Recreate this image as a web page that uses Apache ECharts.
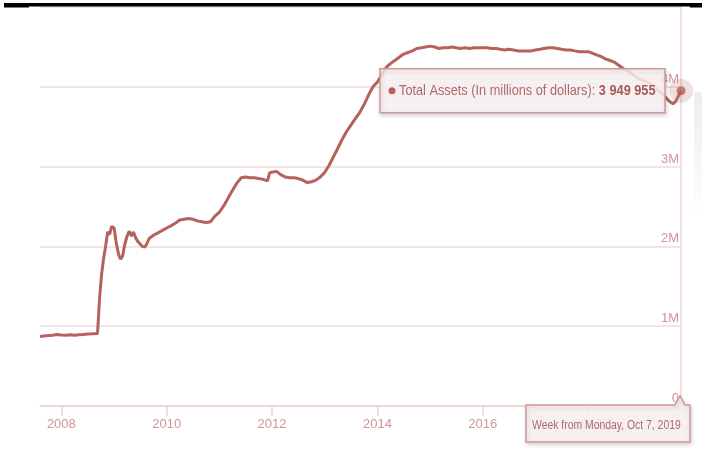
<!DOCTYPE html>
<html>
<head>
<meta charset="utf-8">
<script src="https://cdn.jsdelivr.net/npm/echarts@6/dist/echarts.min.js"></script>
<style>
  html, body { margin: 0; padding: 0; background: #fff; }
  #chart { width: 702px; height: 454px; }
</style>
</head>
<body>
<div id="chart"></div>
<script>
// Federal Reserve total assets, week dates and values in millions of dollars
const weeks = [
  '2007-08-06','2007-09-01','2007-10-01','2007-11-01','2007-12-01',
  '2008-01-01','2008-02-01','2008-03-01','2008-04-01','2008-05-01','2008-06-01','2008-07-01','2008-08-01',
  '2008-09-08','2008-09-22','2008-10-06','2008-10-20','2008-11-03','2008-11-17','2008-12-01','2008-12-15',
  '2009-01-01','2009-01-15','2009-02-01','2009-02-15','2009-03-01','2009-03-15','2009-04-01','2009-04-15',
  '2009-05-01','2009-05-15','2009-06-01','2009-06-15','2009-07-01','2009-07-15','2009-08-01','2009-08-15',
  '2009-09-01','2009-10-01','2009-11-01','2009-12-01',
  '2010-01-01','2010-02-01','2010-03-01','2010-04-01','2010-05-01','2010-06-01','2010-07-01','2010-08-01',
  '2010-09-01','2010-10-01','2010-11-01','2010-12-01',
  '2011-01-01','2011-02-01','2011-03-01','2011-04-01','2011-05-01','2011-06-01','2011-07-01','2011-08-01',
  '2011-09-01','2011-10-01','2011-11-01','2011-12-01','2011-12-15',
  '2012-01-01','2012-02-01','2012-03-01','2012-04-01','2012-05-01','2012-06-01','2012-07-01','2012-08-01',
  '2012-09-01','2012-10-01','2012-11-01','2012-12-01',
  '2013-01-01','2013-02-01','2013-03-01','2013-04-01','2013-05-01','2013-06-01','2013-07-01','2013-08-01',
  '2013-09-01','2013-10-01','2013-11-01','2013-12-01',
  '2014-01-01','2014-02-01','2014-03-01','2014-04-01','2014-05-01','2014-06-01','2014-07-01','2014-08-01',
  '2014-09-01','2014-10-01','2014-11-01','2014-12-01',
  '2015-01-01','2015-02-01','2015-03-01','2015-04-01','2015-05-01','2015-06-01','2015-07-01','2015-08-01',
  '2015-09-01','2015-10-01','2015-11-01','2015-12-01',
  '2016-01-01','2016-02-01','2016-03-01','2016-04-01','2016-05-01','2016-06-01','2016-07-01','2016-08-01',
  '2016-09-01','2016-10-01','2016-11-01','2016-12-01',
  '2017-01-01','2017-02-01','2017-03-01','2017-04-01','2017-05-01','2017-06-01','2017-07-01','2017-08-01',
  '2017-09-01','2017-10-01','2017-11-01','2017-12-01',
  '2018-01-01','2018-02-01','2018-03-01','2018-04-01','2018-05-01','2018-06-01','2018-07-01','2018-08-01',
  '2018-09-01','2018-10-01','2018-11-01','2018-12-01',
  '2019-01-01','2019-02-01','2019-03-01','2019-04-01','2019-05-01','2019-06-01','2019-07-01','2019-08-01',
  '2019-08-15','2019-09-01','2019-09-15','2019-10-01','2019-10-07'
];

const totalAssets = [
  870000, 878000, 882000, 888000, 895000,
  890000, 888000, 893000, 887000, 892000, 897000, 902000, 905000,
  910000, 1350000, 1650000, 1850000, 2000000, 2180000, 2150000, 2250000,
  2230000, 2050000, 1900000, 1840000, 1880000, 2020000, 2130000, 2190000,
  2130000, 2180000, 2100000, 2060000, 2030000, 2000000, 1990000, 2030000,
  2100000, 2140000, 2170000, 2200000,
  2230000, 2260000, 2290000, 2330000, 2340000, 2350000, 2340000, 2320000,
  2310000, 2300000, 2310000, 2380000,
  2430000, 2510000, 2600000, 2700000, 2790000, 2860000, 2870000, 2860000,
  2860000, 2850000, 2840000, 2820000, 2920000,
  2930000, 2940000, 2900000, 2870000, 2860000, 2860000, 2850000, 2830000,
  2800000, 2810000, 2830000, 2870000,
  2930000, 3020000, 3120000, 3230000, 3340000, 3440000, 3520000, 3600000,
  3680000, 3780000, 3900000, 4000000,
  4060000, 4150000, 4240000, 4290000, 4330000, 4370000, 4410000, 4430000,
  4450000, 4480000, 4490000, 4500000,
  4510000, 4500000, 4480000, 4490000, 4490000, 4500000, 4490000, 4480000,
  4490000, 4480000, 4490000, 4490000,
  4490000, 4490000, 4480000, 4480000, 4470000, 4460000, 4470000, 4460000,
  4450000, 4450000, 4450000, 4450000,
  4460000, 4470000, 4480000, 4490000, 4490000, 4480000, 4470000, 4460000,
  4460000, 4450000, 4440000, 4440000,
  4440000, 4420000, 4400000, 4380000, 4350000, 4330000, 4310000, 4270000,
  4230000, 4200000, 4160000, 4120000,
  4090000, 4070000, 4050000, 4010000, 3960000, 3910000, 3850000, 3800000,
  3790000, 3820000, 3870000, 3930000, 3949955
];

const yearTicks = ['2008', '2010', '2012', '2014', '2016', '2018'];
const seriesName = 'Total Assets (In millions of dollars)';

const FONT = "'Liberation Sans', Arial, sans-serif";
const LINE = '#b5615c';
const LABEL = '#cf9696';
const GRID = '#f2dada';

const lastIdx = weeks.length - 1;
const lastDate = weeks[lastIdx];
const lastValue = totalAssets[lastIdx];

function toTime(s) {
  const p = s.split('-').map(Number);
  return Date.UTC(p[0], p[1] - 1, p[2]);
}
function groupDigits(n) {
  return String(n).replace(/\B(?=(\d{3})+(?!\d))/g, ' ');
}
function weekText(s) {
  const d = new Date(toTime(s));
  const days = ['Sunday','Monday','Tuesday','Wednesday','Thursday','Friday','Saturday'];
  const months = ['Jan','Feb','Mar','Apr','May','Jun','Jul','Aug','Sep','Oct','Nov','Dec'];
  return 'Week from ' + days[d.getUTCDay()] + ', ' + months[d.getUTCMonth()] + ' ' +
    d.getUTCDate() + ', ' + d.getUTCFullYear();
}

const yearTickValues = yearTicks.map(y => Date.UTC(Number(y), 0, 1));
const lineData = weeks.map((w, i) => [toTime(w), totalAssets[i]]);
const lastPoint = [toTime(lastDate), lastValue];

const chart = echarts.init(document.getElementById('chart'), null, { renderer: 'canvas' });

chart.setOption({
  animation: false,
  backgroundColor: '#ffffff',
  grid: { left: 40, right: 21, top: 7, bottom: 48, containLabel: false },
  xAxis: {
    type: 'value',
    z: 0,
    min: toTime(weeks[0]),
    max: toTime(lastDate),
    axisLine: { show: true, lineStyle: { color: '#efcfcf', width: 1.5 } },
    axisTick: {
      show: true, length: 10, customValues: yearTickValues,
      lineStyle: { color: '#efcfcf', width: 1.5 }
    },
    axisLabel: {
      customValues: yearTickValues,
      showMinLabel: true, showMaxLabel: true,
      formatter: v => String(new Date(v).getUTCFullYear()),
      color: LABEL, fontSize: 13, fontFamily: FONT, margin: 12
    },
    splitLine: { show: false }
  },
  yAxis: {
    type: 'value',
    z: 0,
    position: 'right',
    min: 0, max: 5000000, interval: 1000000,
    axisLine: { show: true, lineStyle: { color: '#f0d2d2', width: 1.5 } },
    axisTick: { show: false },
    axisLabel: {
      inside: true,
      margin: 2,
      verticalAlign: 'bottom',
      padding: [0, 0, 1, 0],
      color: LABEL, fontSize: 13, fontFamily: FONT,
      formatter: v => v >= 5000000 ? '' : (v === 0 ? '0' : (v / 1000000) + 'M')
    },
    splitLine: { show: true, lineStyle: { color: GRID, width: 1.5 } }
  },
  series: [
    {
      name: seriesName,
      type: 'line',
      data: lineData,
      showSymbol: false,
      lineStyle: { color: LINE, width: 3 },
      z: 3
    },
    {
      type: 'scatter',
      data: [lastPoint],
      symbolSize: 24,
      itemStyle: { color: 'rgba(190,110,110,0.28)' },
      silent: true,
      z: 4
    },
    {
      type: 'scatter',
      data: [lastPoint],
      symbolSize: 9,
      itemStyle: { color: LINE },
      silent: true,
      z: 5
    }
  ]
});

// Place the hover boxes relative to the last point on the library's scales
const p = chart.convertToPixel({ seriesIndex: 0 }, lastPoint);
const axisY = chart.convertToPixel({ yAxisIndex: 0 }, 0);
const ax = p[0];

const boxStyle = {
  fill: 'rgba(251,243,243,0.85)', stroke: '#cf9898', lineWidth: 1.5,
  shadowBlur: 4, shadowOffsetX: 1, shadowOffsetY: 2, shadowColor: 'rgba(0,0,0,0.18)'
};

chart.setOption({
  graphic: {
    elements: [
      // header rule
      { type: 'rect', zlevel: 1, z: 100, shape: { x: 4, y: 3, width: 698, height: 3.5 }, style: { fill: '#000' } },
      { type: 'rect', zlevel: 1, z: 100, shape: { x: 4, y: 6, width: 25, height: 1.5 }, style: { fill: '#000' } },
      { type: 'rect', zlevel: 1, z: 100, shape: { x: 690, y: 6, width: 12, height: 1.5 }, style: { fill: '#000' } },
      // faint side shadow
      {
        type: 'rect', zlevel: 1, z: 100, shape: { x: 694, y: 92, width: 9, height: 128 },
        style: {
          fill: new echarts.graphic.LinearGradient(0, 0, 0, 1, [
            { offset: 0, color: 'rgba(0,0,0,0.07)' },
            { offset: 1, color: 'rgba(0,0,0,0)' }
          ])
        }
      },
      // value box
      {
        type: 'rect', zlevel: 1, z: 100,
        shape: { x: ax - 301, y: p[1] - 22, width: 285, height: 44 },
        style: boxStyle
      },
      {
        type: 'circle', zlevel: 1, z: 101,
        shape: { cx: ax - 289, cy: p[1], r: 3.5 },
        style: { fill: LINE }
      },
      {
        type: 'text', zlevel: 1, z: 101,
        x: ax - 282, y: p[1] + 0.5,
        scaleX: 0.85,
        style: {
          text: '{n|' + seriesName + ': }{b|' + groupDigits(lastValue) + '}',
          verticalAlign: 'middle',
          rich: {
            n: { fontSize: 15, fontFamily: FONT, fill: '#b06a6a' },
            b: { fontSize: 15, fontFamily: FONT, fontWeight: 'bold', fill: '#a85a5a' }
          }
        }
      },
      // date box
      {
        type: 'polygon', zlevel: 1, z: 100,
        shape: {
          points: [
            [ax - 155, axisY - 1], [ax - 6, axisY - 1], [ax - 1, axisY - 10],
            [ax + 4, axisY - 1], [ax + 9, axisY - 1], [ax + 9, axisY + 36], [ax - 155, axisY + 36]
          ]
        },
        style: boxStyle
      },
      {
        type: 'text', zlevel: 1, z: 101,
        x: ax - 149, y: axisY + 19,
        scaleX: 0.8,
        style: {
          text: weekText(lastDate),
          align: 'left', verticalAlign: 'middle',
          fontSize: 13, fontFamily: FONT, fill: '#b06a6a'
        }
      }
    ]
  }
});
</script>
</body>
</html>
